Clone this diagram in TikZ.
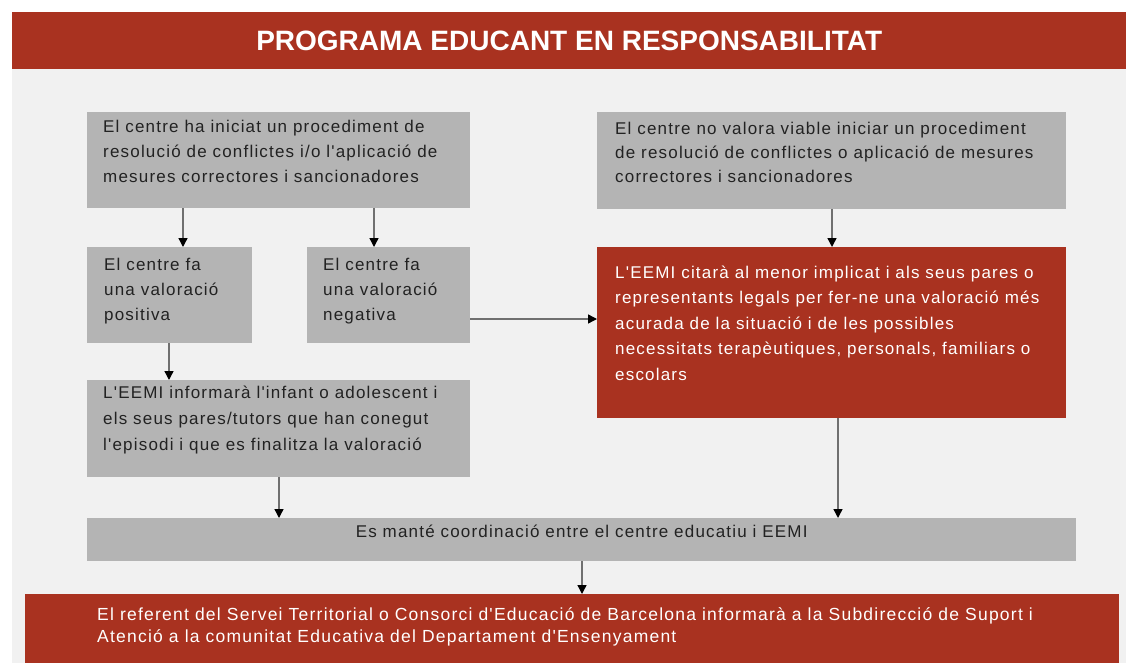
\documentclass[tikz,border=0pt]{standalone}
\usepackage{fontspec}
\setmainfont{Liberation Sans}
\newfontfamily\bodyfont{Liberation Sans}[LetterSpace=7]
\usetikzlibrary{arrows.meta,calc}
\definecolor{bgcol}{HTML}{F1F1F1}
\definecolor{redcol}{HTML}{A93220}
\definecolor{graycol}{HTML}{B4B4B4}
\definecolor{linecol}{HTML}{707070}
\definecolor{darktxt}{HTML}{222222}
\newcommand\boxlines[2]{\parbox[t]{1050pt}{\raggedright\baselineskip=#1pt #2}}
\tikzset{
  gbox/.style={fill=graycol, draw=none, inner sep=0pt, anchor=north west},
  rbox/.style={fill=redcol, draw=none, inner sep=0pt, anchor=north west},
  gtxt/.style={inner sep=0pt, anchor=base west, text=darktxt, font=\bodyfont\fontsize{17}{25}\selectfont},
  wtxt/.style={inner sep=0pt, anchor=base west, text=white, font=\bodyfont\fontsize{17}{25}\selectfont},
  conn/.style={draw=linecol, line width=1.4pt, -{Triangle[length=9pt,width=9pt,color=black]}}
}
\begin{document}
\begin{tikzpicture}[x=1pt,y=-1pt]
\useasboundingbox (0,0) rectangle (1126,663);
\fill[white] (0,0) rectangle (1126,663);
\fill[bgcol] (12,69) rectangle (1126,663);
% title
\node[rbox, minimum width=1114pt, minimum height=57pt] (title) at (12,12) {};
\node[inner sep=0pt, text=white, font=\bfseries\fontsize{28}{30}\selectfont] (titletext) at (title.center) {PROGRAMA EDUCANT EN RESPONSABILITAT};
% boxes
\node[gbox, minimum width=383pt, minimum height=96pt] (b1) at (87,112) {};
\node[gbox, minimum width=469pt, minimum height=97pt] (b2) at (597,112) {};
\node[gbox, minimum width=165pt, minimum height=96pt] (pos) at (87,247) {};
\node[gbox, minimum width=163pt, minimum height=96pt] (neg) at (307,247) {};
\node[rbox, minimum width=469pt, minimum height=171pt] (red) at (597,247) {};
\node[gbox, minimum width=383pt, minimum height=97pt] (inf) at (87,380) {};
\node[gbox, minimum width=989pt, minimum height=43pt] (coord) at (87,518) {};
\node[rbox, minimum width=1094pt, minimum height=69pt] (final) at (25,594) {};
% texts
\node[gtxt] (t1) at ($(b1.north west)+(16,21)$) {\boxlines{25}{El centre ha iniciat un procediment de\\resolució de conflictes i/o l'aplicació de\\mesures correctores i sancionadores}};
\node[gtxt] (t2) at ($(b2.north west)+(18,23)$) {\boxlines{24}{El centre no valora viable iniciar un procediment\\de resolució de conflictes o aplicació de mesures\\correctores i sancionadores}};
\node[gtxt] (tpos) at ($(pos.north west)+(17,23)$) {\boxlines{25}{El centre fa\\una valoració\\positiva}};
\node[gtxt] (tneg) at ($(neg.north west)+(16,23)$) {\boxlines{25}{El centre fa\\una valoració\\negativa}};
\node[wtxt] (tred) at ($(red.north west)+(18,31)$) {\boxlines{25.5}{L'EEMI citarà al menor implicat i als seus pares o\\representants legals per fer-ne una valoració més\\acurada de la situació i de les possibles\\necessitats terapèutiques, personals, familiars o\\escolars}};
\node[gtxt] (tinf) at ($(inf.north west)+(16,18)$) {\boxlines{26}{L'EEMI informarà l'infant o adolescent i\\els seus pares/tutors que han conegut\\l'episodi i que es finalitza la valoració}};
\node[inner sep=0pt, anchor=base, text=darktxt, font=\bodyfont\fontsize{17}{25}\selectfont] (tcoord) at ($(coord.north)+(0,19)$) {Es manté coordinació entre el centre educatiu i EEMI};
\node[wtxt, font=\bodyfont\fontsize{17.5}{22}\selectfont] (tfinal) at ($(final.north west)+(72,26)$) {\boxlines{22}{El referent del Servei Territorial o Consorci d'Educació de Barcelona informarà a la Subdirecció de Suport i\\Atenció a la comunitat Educativa del Departament d'Ensenyament}};
% connectors
\coordinate (a1) at ($(b1.south west)+(96,0)$);
\coordinate (a2) at ($(b1.south west)+(287,0)$);
\coordinate (a3) at ($(b2.south west)+(235,0)$);
\coordinate (a4) at ($(neg.north east)+(0,72)$);
\coordinate (a5) at ($(pos.south west)+(82,0)$);
\coordinate (a6) at ($(inf.south west)+(192,0)$);
\coordinate (a7) at ($(red.south west)+(241,0)$);
\coordinate (a8) at ($(coord.south west)+(495,0)$);
\draw[conn] (a1) -- (a1 |- pos.north);
\draw[conn] (a2) -- (a2 |- neg.north);
\draw[conn] (a3) -- (a3 |- red.north);
\draw[conn] (a4) -- (a4 -| red.west);
\draw[conn] (a5) -- (a5 |- inf.north);
\draw[conn] (a6) -- (a6 |- coord.north);
\draw[conn] (a7) -- (a7 |- coord.north);
\draw[conn] (a8) -- (a8 |- final.north);
\end{tikzpicture}
\end{document}
